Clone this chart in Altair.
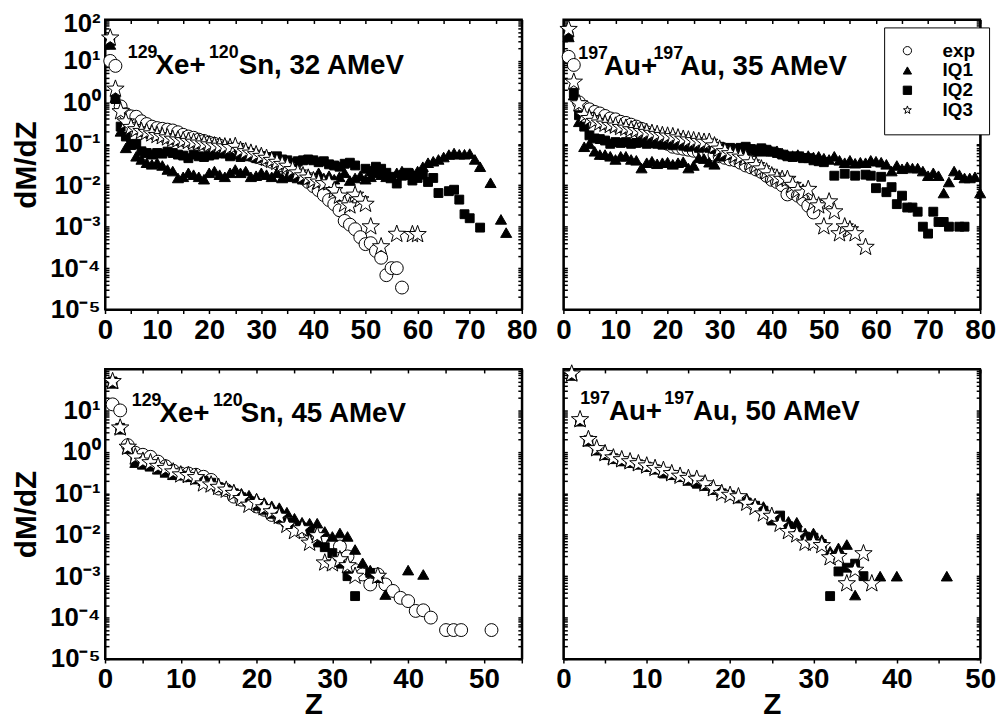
import json
import altair as alt
import pandas as pd

FONT = "Liberation Sans"
SERIES = ["exp", "IQ1", "IQ2", "IQ3"]
SHAPES = ["circle", "triangle-up", "square",
          "M0,-1L0.24,-0.33L0.95,-0.31L0.39,0.13L0.59,0.81L0,0.41L-0.59,0.81L-0.39,0.13L-0.95,-0.31L-0.24,-0.33Z"]
FILLS = ["white", "black", "black", "white"]
STROKES = ["black", "black", "black", "black"]
SIZES = {"exp": 170, "IQ1": 125, "IQ2": 80, "IQ3": 340}

# ---------------- data: (Z, dM/dZ) ----------------
# 129Xe+120Sn, 32 AMeV
a_exp = [(1,10),(2,7.6),(3,0.8),(4,0.52),(5,0.46),(6,0.45),(7,0.35),(8,0.30),(9,0.26),(10,0.24),(11,0.23),(12,0.22),(13,0.21),(14,0.19),(15,0.165),(16,0.15),(17,0.14),(18,0.126),(19,0.117),(20,0.107),(21,0.1),(22,0.091),(23,0.083),(24,0.076),(25,0.071),(26,0.065),(27,0.059),(28,0.054),(29,0.049),(30,0.045),(31,0.041),(32,0.037),(33,0.034),(34,0.03),(35,0.026),(36,0.022),(37,0.0186),(38,0.015),(39,0.012),(40,0.0095),(41,0.0076),(42,0.0058),(43,0.0044),(44,0.0035),(45,0.0025),(46,0.00138),(47,0.00112),(48,0.00087),(49,0.00056),(50,0.00038),(51,0.0004),(52,0.00026),(53,0.000178),(54,0.0000676),(55,0.0001),(56,0.0001),(57,0.000034)]
a_iq1 = [(1,25),(2,1.3),(3,0.2),(4,0.08),(5,0.1),(6,0.05),(7,0.042),(8,0.035),(9,0.032),(10,0.035),(11,0.03),(12,0.024),(13,0.022),(14,0.015),(15,0.016),(16,0.02),(17,0.018),(18,0.016),(19,0.014),(20,0.02),(21,0.022),(22,0.018),(23,0.016),(24,0.02),(25,0.024),(26,0.02),(27,0.022),(28,0.016),(29,0.017),(30,0.02),(31,0.018),(32,0.016),(33,0.02),(34,0.015),(35,0.016),(36,0.017),(37,0.015),(38,0.014),(39,0.018),(40,0.016),(41,0.02),(42,0.015),(43,0.017),(44,0.014),(45,0.016),(46,0.02),(47,0.013),(48,0.015),(49,0.017),(50,0.014),(51,0.016),(52,0.02),(53,0.018),(54,0.016),(55,0.015),(56,0.02),(57,0.022),(58,0.018),(59,0.02),(60,0.022),(61,0.028),(62,0.035),(63,0.038),(64,0.042),(65,0.048),(66,0.055),(67,0.06),(68,0.056),(69,0.056),(70,0.058),(71,0.042),(72,0.028),(74,0.0115),(76,0.0015),(77,0.00072)]
a_iq2 = [(1,30),(2,1.2),(3,0.26),(4,0.15),(5,0.093),(6,0.1),(7,0.066),(8,0.06),(9,0.055),(10,0.06),(11,0.058),(12,0.065),(13,0.06),(14,0.055),(15,0.052),(16,0.045),(17,0.055),(18,0.05),(19,0.048),(20,0.052),(21,0.055),(22,0.06),(23,0.058),(24,0.05),(25,0.055),(26,0.048),(27,0.05),(28,0.052),(29,0.045),(30,0.05),(31,0.048),(32,0.045),(33,0.05),(34,0.042),(35,0.04),(36,0.035),(37,0.038),(38,0.04),(39,0.042),(40,0.04),(41,0.036),(42,0.038),(43,0.032),(44,0.03),(45,0.028),(46,0.033),(47,0.035),(48,0.03),(50,0.025),(51,0.022),(52,0.028),(53,0.025),(54,0.02),(55,0.016),(56,0.011),(57,0.017),(58,0.02),(59,0.013),(60,0.015),(61,0.018),(62,0.012),(63,0.015),(64,0.0065),(66,0.0072),(67,0.0078),(68,0.0045),(69,0.002),(70,0.0016),(72,0.00095)]
a_iq3 = [(1,36),(2,2.1),(3,0.6),(4,0.34),(5,0.25),(6,0.22),(7,0.2),(8,0.19),(9,0.175),(10,0.16),(11,0.15),(12,0.14),(13,0.13),(14,0.125),(15,0.12),(16,0.115),(17,0.11),(18,0.105),(19,0.1),(20,0.095),(21,0.09),(22,0.088),(23,0.085),(24,0.082),(25,0.087),(26,0.07),(27,0.065),(28,0.06),(29,0.055),(30,0.05),(31,0.045),(32,0.04),(33,0.036),(34,0.032),(35,0.029),(36,0.024),(37,0.02),(38,0.017),(39,0.015),(40,0.013),(41,0.012),(42,0.011),(43,0.0115),(44,0.0075),(45,0.0055),(46,0.0035),(47,0.0032),(48,0.0058),(49,0.0045),(50,0.0035),(51,0.001),(53,0.00033),(56,0.00066),(59,0.00065),(60,0.00065)]

# 197Au+197Au, 35 AMeV
b_exp = [(1,12.6),(2,8),(3,1.0),(4,0.78),(5,0.68),(6,0.59),(7,0.54),(8,0.47),(9,0.41),(10,0.39),(11,0.34),(12,0.32),(13,0.29),(14,0.26),(15,0.23),(16,0.19),(17,0.16),(18,0.14),(19,0.12),(20,0.1),(21,0.085),(22,0.08),(23,0.076),(24,0.072),(25,0.068),(26,0.064),(27,0.06),(28,0.058),(29,0.054),(30,0.05),(31,0.046),(32,0.042),(33,0.04),(34,0.035),(35,0.03),(36,0.027),(37,0.024),(38,0.021),(39,0.017),(40,0.0135),(41,0.012),(42,0.01),(43,0.006),(44,0.0065),(45,0.0056),(46,0.0045),(47,0.0032),(48,0.0022)]
b_iq1 = [(1,38),(2,1.5),(3,0.34),(4,0.085),(5,0.1),(6,0.066),(7,0.055),(8,0.055),(9,0.05),(10,0.042),(11,0.05),(12,0.05),(13,0.042),(14,0.04),(15,0.026),(16,0.035),(17,0.038),(18,0.033),(19,0.035),(20,0.036),(21,0.032),(22,0.035),(23,0.037),(24,0.026),(25,0.03),(26,0.046),(27,0.044),(28,0.036),(29,0.032),(30,0.05),(31,0.055),(32,0.06),(33,0.058),(34,0.062),(35,0.06),(36,0.065),(37,0.07),(38,0.066),(39,0.07),(40,0.066),(41,0.068),(42,0.06),(43,0.055),(44,0.052),(45,0.055),(46,0.05),(47,0.052),(48,0.048),(49,0.05),(50,0.045),(51,0.042),(52,0.05),(53,0.04),(54,0.035),(55,0.04),(56,0.034),(57,0.036),(58,0.035),(59,0.04),(60,0.038),(61,0.036),(62,0.032),(63,0.022),(64,0.03),(65,0.025),(66,0.028),(67,0.026),(68,0.026),(69,0.022),(70,0.017),(71,0.02),(72,0.017),(73,0.0065),(74,0.012),(75,0.022),(76,0.018),(77,0.015),(78,0.015),(79,0.016),(80,0.0065)]
b_iq2 = [(1,40),(2,1.7),(3,0.49),(4,0.26),(5,0.16),(6,0.135),(7,0.13),(8,0.12),(9,0.1),(10,0.11),(11,0.105),(12,0.11),(13,0.1),(14,0.105),(15,0.11),(16,0.1),(17,0.105),(18,0.1),(19,0.095),(20,0.1),(21,0.092),(22,0.1),(23,0.09),(24,0.085),(25,0.09),(26,0.08),(27,0.085),(28,0.08),(29,0.075),(30,0.085),(31,0.078),(32,0.08),(33,0.075),(34,0.08),(35,0.085),(36,0.075),(37,0.07),(38,0.078),(39,0.072),(40,0.065),(41,0.06),(42,0.055),(43,0.05),(44,0.048),(45,0.05),(46,0.045),(47,0.045),(48,0.04),(49,0.038),(50,0.036),(52,0.017),(54,0.019),(56,0.017),(58,0.018),(59,0.017),(60,0.0085),(61,0.016),(62,0.0068),(63,0.009),(64,0.0035),(65,0.0056),(66,0.0029),(67,0.0029),(68,0.0023),(69,0.001),(70,0.00068),(71,0.0023),(72,0.0013),(73,0.0013),(74,0.001),(76,0.001),(77,0.001)]
b_iq3 = [(1,58),(2,3.1),(3,0.93),(4,0.49),(5,0.41),(6,0.35),(7,0.32),(8,0.3),(9,0.28),(10,0.27),(11,0.25),(12,0.24),(13,0.22),(14,0.21),(15,0.2),(16,0.19),(17,0.18),(18,0.17),(19,0.16),(20,0.155),(21,0.15),(22,0.14),(23,0.13),(24,0.125),(25,0.12),(26,0.115),(27,0.11),(28,0.11),(29,0.09),(30,0.075),(31,0.065),(32,0.058),(33,0.052),(34,0.048),(35,0.045),(36,0.035),(37,0.03),(38,0.025),(39,0.021),(40,0.017),(41,0.015),(42,0.014),(43,0.014),(44,0.01),(45,0.0075),(46,0.0065),(47,0.008),(48,0.0038),(49,0.0032),(50,0.001),(51,0.004),(52,0.0023),(53,0.00068),(54,0.001),(55,0.00085),(56,0.00068),(58,0.00032)]

# 129Xe+120Sn, 45 AMeV
c_exp = [(1,14),(2,10),(3,1.45),(4,0.95),(5,0.85),(6,0.76),(7,0.58),(8,0.45),(9,0.35),(10,0.3),(11,0.3),(12,0.28),(13,0.25),(14,0.21),(15,0.13),(16,0.12),(17,0.083),(18,0.07),(19,0.06),(20,0.048),(21,0.04),(22,0.03),(23,0.026),(24,0.02),(25,0.016),(26,0.012),(27,0.011),(28,0.0076),(29,0.0065),(30,0.0058),(31,0.0052),(32,0.003),(33,0.0014),(34,0.0011),(35,0.00063),(36,0.0011),(37,0.00063),(38,0.00044),(39,0.0003),(40,0.00025),(41,0.000145),(42,0.00015),(43,0.0001),(45,0.00005),(46,0.00005),(47,0.00005),(51,0.00005)]
c_iq1 = [(1,45),(2,3.5),(3,1.2),(4,0.55),(5,0.5),(6,0.45),(7,0.38),(8,0.32),(9,0.28),(10,0.28),(11,0.25),(12,0.22),(13,0.2),(14,0.18),(15,0.15),(16,0.13),(17,0.12),(18,0.1),(19,0.09),(20,0.075),(21,0.06),(22,0.05),(23,0.045),(24,0.035),(25,0.025),(26,0.02),(27,0.019),(28,0.019),(29,0.012),(30,0.0091),(31,0.011),(32,0.0091),(33,0.0044),(34,0.0021),(35,0.0014),(37,0.00036),(40,0.0014),(42,0.0011)]
c_iq2 = [(1,50),(2,3.8),(3,1.2),(4,0.6),(5,0.5),(6,0.45),(7,0.38),(8,0.33),(9,0.3),(10,0.27),(11,0.25),(12,0.22),(13,0.2),(14,0.18),(15,0.14),(16,0.12),(17,0.1),(18,0.08),(19,0.065),(20,0.05),(21,0.04),(22,0.032),(23,0.025),(24,0.02),(25,0.016),(26,0.015),(27,0.012),(28,0.0065),(29,0.005),(30,0.0036),(31,0.002),(32,0.001),(33,0.00033),(35,0.0012),(36,0.0009)]
c_iq3 = [(1,50),(2,3.8),(3,1.3),(4,0.76),(5,0.6),(6,0.55),(7,0.45),(8,0.4),(9,0.33),(10,0.28),(11,0.27),(12,0.24),(13,0.17),(14,0.16),(15,0.14),(16,0.12),(17,0.1),(18,0.075),(19,0.052),(20,0.06),(21,0.045),(22,0.036),(23,0.028),(24,0.017),(25,0.012),(26,0.014),(27,0.0063),(28,0.0095),(29,0.0021),(30,0.002),(31,0.0025),(32,0.0018),(33,0.001),(36,0.001)]

# 197Au+197Au, 50 AMeV
d_iq1 = [(1,70),(2,5.5),(3,1.8),(4,1.1),(5,0.85),(6,0.68),(7,0.6),(8,0.55),(9,0.5),(10,0.44),(11,0.38),(12,0.33),(13,0.28),(14,0.25),(15,0.22),(16,0.19),(17,0.16),(18,0.13),(19,0.11),(20,0.095),(21,0.085),(22,0.075),(23,0.055),(24,0.048),(25,0.032),(26,0.025),(27,0.021),(28,0.02),(29,0.011),(30,0.011),(31,0.0076),(32,0.004),(33,0.0048),(34,0.0058),(35,0.00035),(38,0.001),(40,0.001),(46,0.001)]
d_iq2 = [(1,70),(2,5.5),(3,1.9),(4,1.1),(5,0.85),(6,0.7),(7,0.6),(8,0.55),(9,0.5),(10,0.44),(11,0.38),(12,0.3),(13,0.28),(14,0.25),(15,0.2),(16,0.17),(17,0.15),(18,0.12),(19,0.1),(20,0.09),(21,0.075),(22,0.06),(23,0.05),(24,0.038),(25,0.022),(26,0.029),(27,0.016),(28,0.012),(29,0.009),(30,0.0085),(31,0.006),(32,0.00033),(33,0.0013),(34,0.0016),(35,0.002),(36,0.001)]
d_iq3 = [(1,76),(2,6),(3,2),(4,1.2),(5,0.91),(6,0.72),(7,0.65),(8,0.58),(9,0.52),(10,0.46),(11,0.4),(12,0.36),(13,0.3),(14,0.26),(15,0.23),(16,0.22),(17,0.17),(18,0.13),(19,0.1),(20,0.09),(21,0.083),(22,0.058),(23,0.046),(24,0.032),(25,0.028),(26,0.018),(27,0.012),(28,0.01),(29,0.0063),(30,0.0063),(31,0.0055),(32,0.0028),(33,0.003),(34,0.00066),(35,0.0014),(36,0.0035),(37,0.00066)]

# annotation pieces: isotope mass numbers and reaction text
a_text = ["129", "Xe+", "120", "Sn, 32 AMeV"]
b_text = ["197", "Au+", "197", "Au, 35 AMeV"]
c_text = ["129", "Xe+", "120", "Sn, 45 AMeV"]
d_text = ["197", "Au+", "197", "Au, 50 AMeV"]

# axis ticks and labels
y_decades = [1e-5, 1e-4, 1e-3, 1e-2, 1e-1, 1e0, 1e1, 1e2]
y_labels_top = ["10⁻⁵", "10⁻⁴", "10⁻³", "10⁻²", "10⁻¹", "10⁰", "10¹", "10²"]
y_labels_bottom = ["10⁻⁵", "10⁻⁴", "10⁻³", "10⁻²", "10⁻¹", "10⁰", "10¹", ""]
x_ticks_80 = [0, 5, 10, 15, 20, 25, 30, 35, 40, 45, 50, 55, 60, 65, 70, 75, 80]
x_ticks_55 = [0, 5, 10, 15, 20, 25, 30, 35, 40, 45, 50, 55]
x_ticks_50 = [0, 5, 10, 15, 20, 25, 30, 35, 40, 45, 50]

y_minor = [m * d for d in y_decades[:-1] for m in range(2, 10)]
y_ticks = sorted(y_decades + y_minor)

W, H = 421, 293


def y_label_expr(labels):
    arr = json.dumps(labels, ensure_ascii=False)
    return ("abs(log(datum.value)/LN10 - round(log(datum.value)/LN10)) < 0.001 ? "
            + arr + "[round(log(datum.value)/LN10) + 5] : ''")


def panel(series, xmax, xticks, texts, pos, left, bottom, show_legend, ylabels):
    xs = alt.Scale(domain=[0, xmax], nice=False, zero=False)
    ys = alt.Scale(type="log", domain=[1e-5, 1e2], nice=False)

    xkw = dict(orient="bottom", values=xticks,
               labelExpr="datum.value % 10 === 0 ? datum.label : ''",
               labelFlush=False, labelOverlap=False, tickSize=4, labelPadding=3,
               labelFontSize=28, grid=False)
    if bottom:
        xkw.update(title="Z", titleFontSize=30, titlePadding=-4)
    else:
        xkw.update(title=None)
    ykw = dict(orient="left", values=y_ticks, tickSize={"expr": "-4"}, labelPadding=9,
               labelFontSize=26, labelOverlap=False, labelFlush=False, grid=False,
               labelOffset={"condition": {"test": "datum.value > 50", "value": 4}, "value": 0})
    if left:
        ykw.update(labelExpr=y_label_expr(ylabels), title="dM/dZ", titleFontSize=30,
                   titlePadding=8)
    else:
        ykw.update(labels=False, title=None)

    if show_legend:
        leg = alt.Legend(title=None, orient="none", legendX=324, legendY=8,
                         labelFont=FONT, labelFontSize=19, labelFontWeight="bold",
                         labelColor="black", strokeColor="black", fillColor="white",
                         padding=14, rowPadding=0, symbolSize=70,
                         symbolStrokeWidth=1, labelOffset=26)
    else:
        leg = None

    layers = []
    all_rows = []
    for i, (name, pts) in enumerate(series):
        df = pd.DataFrame({"Z": [p[0] for p in pts], "v": [p[1] for p in pts],
                           "s": [name] * len(pts)})
        all_rows.append(df)
        if i == 0:
            xenc = alt.X("Z:Q", scale=xs, axis=alt.Axis(**xkw))
            yenc = alt.Y("v:Q", scale=ys, axis=alt.Axis(**ykw))
        else:
            xenc = alt.X("Z:Q", scale=xs, axis=None)
            yenc = alt.Y("v:Q", scale=ys, axis=None)
        layers.append(
            alt.Chart(df).mark_point(filled=True, strokeWidth=1, opacity=1,
                                     size=SIZES[name]).encode(
                x=xenc, y=yenc,
                shape=alt.Shape("s:N", scale=alt.Scale(domain=SERIES, range=SHAPES), legend=leg),
                fill=alt.Fill("s:N", scale=alt.Scale(domain=SERIES, range=FILLS), legend=leg),
                stroke=alt.Stroke("s:N", scale=alt.Scale(domain=SERIES, range=STROKES), legend=leg),
            )
        )
    full = pd.concat(all_rows, ignore_index=True)
    mirror = alt.Chart(full).mark_point(opacity=0).encode(
        x=alt.X("Z:Q", scale=xs, axis=alt.Axis(orient="top", values=xticks, labels=False,
                                                tickSize={"expr": "-4"}, title=None, grid=False)),
        y=alt.Y("v:Q", scale=ys, axis=alt.Axis(orient="right", values=y_ticks, labels=False,
                                                tickSize={"expr": "-4"}, title=None, grid=False)),
    )
    layers.append(mirror)
    sizes = [18, 28, 18, 28]
    for t, fs, (px, py) in zip(texts, sizes, pos):
        layers.append(
            alt.Chart(pd.DataFrame({"t": [t]})).mark_text(
                align="left", baseline="alphabetic", font=FONT, fontSize=fs,
                fontWeight="bold", color="black"
            ).encode(text="t:N", x=alt.value(px), y=alt.value(py))
        )
    return alt.layer(*layers).resolve_axis(x="independent", y="independent").properties(
        width=W, height=H)


tl = panel([("exp", a_exp), ("IQ1", a_iq1), ("IQ2", a_iq2), ("IQ3", a_iq3)], 80, x_ticks_80,
           a_text, [(23, 39), (51, 55), (105, 39), (135, 55)], True, False, False, y_labels_top)
tr = panel([("exp", b_exp), ("IQ1", b_iq1), ("IQ2", b_iq2), ("IQ3", b_iq3)], 80, x_ticks_80,
           b_text, [(15, 40), (41, 56), (91, 40), (118, 56)], False, False, True, y_labels_top)
bl = panel([("exp", c_exp), ("IQ1", c_iq1), ("IQ2", c_iq2), ("IQ3", c_iq3)], 55, x_ticks_55,
           c_text, [(27, 37), (55, 54), (109, 37), (137, 54)], True, True, False, y_labels_bottom)
br = panel([("IQ1", d_iq1), ("IQ2", d_iq2), ("IQ3", d_iq3)], 50, x_ticks_50,
           d_text, [(17, 35), (46, 52), (102, 35), (131, 52)], False, True, False, y_labels_bottom)

chart = alt.concat(tl, tr, bl, br, columns=2, spacing={"row": 60, "column": 42},
                   bounds="flush").resolve_scale(
    x="independent", y="independent", shape="independent", fill="independent",
    stroke="independent"
).properties(
    padding={"left": 3, "top": -2, "right": 0, "bottom": 0}
).configure(font=FONT).configure_view(
    stroke="black", strokeWidth=2
).configure_axis(
    domainColor="black", domainWidth=2, tickColor="black", tickWidth=1.5,
    labelColor="black", labelFont=FONT, labelFontWeight="bold",
    titleFont=FONT, titleFontWeight="bold", titleColor="black"
)

chart.save("out.html", embed_options={"renderer": "svg", "actions": False})
